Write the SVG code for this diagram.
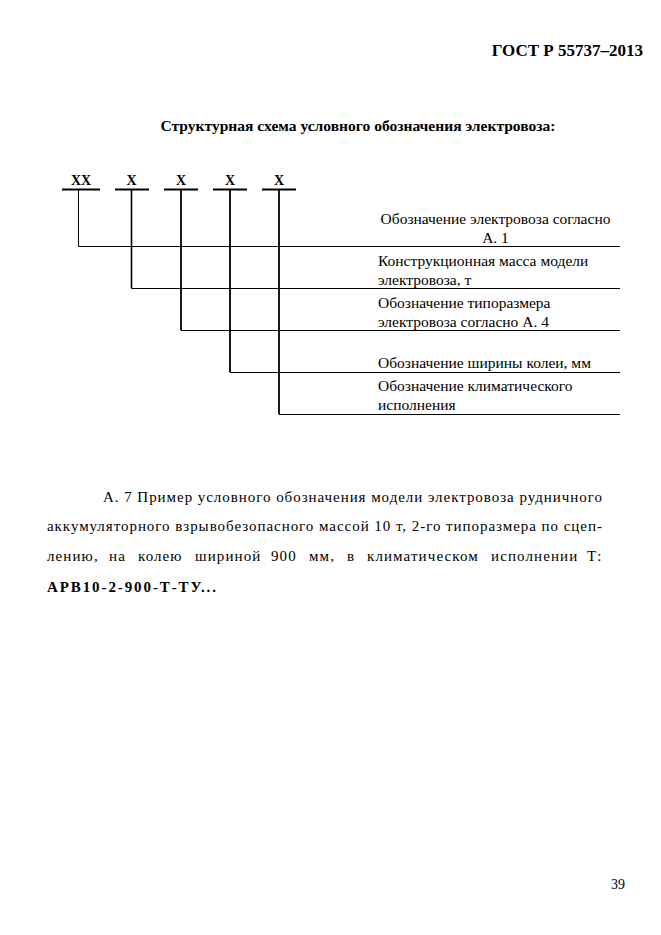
<svg xmlns="http://www.w3.org/2000/svg" width="661" height="935" viewBox="0 0 661 935">
<style>
text{font-family:"Liberation Serif","DejaVu Serif",serif;fill:#000}
.b{font-weight:bold}
.lbl{font-size:15.5px}
.par{font-size:15px;letter-spacing:1.1px}
.ul{stroke:#000;stroke-width:2;fill:none}
.thin{stroke:#000;stroke-width:1;fill:none}
.thick{stroke:#000;stroke-width:1.6;fill:none}
</style>
<rect width="661" height="935" fill="#fff"/>
<text id="header" class="b" x="643" y="56" font-size="17" text-anchor="end">ГОСТ Р 55737–2013</text>
<text id="title" class="b" x="358" y="131" font-size="15" text-anchor="middle" textLength="395" lengthAdjust="spacingAndGlyphs">Структурная схема условного обозначения электровоза:</text>

<g id="codes">
<g id="code-xx"><text class="b" x="81" y="185" font-size="14" text-anchor="middle">XX</text><line class="ul" x1="62" y1="189.5" x2="100" y2="189.5"/></g>
<g id="code-x1"><text class="b" x="131.5" y="185" font-size="14" text-anchor="middle">X</text><line class="ul" x1="115" y1="189.5" x2="149" y2="189.5"/></g>
<g id="code-x2"><text class="b" x="181" y="185" font-size="14" text-anchor="middle">X</text><line class="ul" x1="164" y1="189.5" x2="198" y2="189.5"/></g>
<g id="code-x3"><text class="b" x="230" y="185" font-size="14" text-anchor="middle">X</text><line class="ul" x1="213" y1="189.5" x2="247" y2="189.5"/></g>
<g id="code-x4"><text class="b" x="279" y="185" font-size="14" text-anchor="middle">X</text><line class="ul" x1="262" y1="189.5" x2="296" y2="189.5"/></g>
</g>

<g id="connectors">
<polyline class="thin" points="78.5,190 78.5,246.5 620,246.5"/>
<polyline class="thin" points="131.5,190 131.5,288.5 620,288.5"/>
<polyline class="thin" points="181,190 181,330.5 620,330.5"/>
<polyline class="thin" points="230,190 230,372.5 620,372.5"/>
<polyline class="thin" points="279,190 279,414.5 620,414.5"/>
<line class="thick" x1="131.5" y1="190" x2="131.5" y2="288"/>
<line class="thick" x1="181" y1="190" x2="181" y2="330"/>
<line class="thick" x1="230" y1="190" x2="230" y2="372"/>
<line class="thick" x1="279" y1="190" x2="279" y2="414"/>
</g>

<g id="label1"><text class="lbl" x="495.5" y="224" text-anchor="middle">Обозначение электровоза согласно</text><text class="lbl" x="495.5" y="243" text-anchor="middle">А. 1</text></g>
<g id="label2"><text class="lbl" x="378" y="266">Конструкционная масса модели</text><text class="lbl" x="378" y="285">электровоза, т</text></g>
<g id="label3"><text class="lbl" x="378" y="308">Обозначение типоразмера</text><text class="lbl" x="378" y="327">электровоза согласно А. 4</text></g>
<g id="label4"><text class="lbl" x="378" y="368">Обозначение ширины колеи, мм</text></g>
<g id="label5"><text class="lbl" x="378" y="391">Обозначение климатического</text><text class="lbl" x="378" y="410">исполнения</text></g>

<g id="paragraph">
<text class="par" x="103" y="502" textLength="500" lengthAdjust="spacing">А. 7 Пример условного обозначения модели электровоза рудничного</text>
<text class="par" x="47" y="531" textLength="556" lengthAdjust="spacing">аккумуляторного взрывобезопасного массой 10 т, 2-го типоразмера по сцеп-</text>
<text class="par" y="561"><tspan x="47">лению,</tspan><tspan x="109">на</tspan><tspan x="138">колею</tspan><tspan x="195">шириной</tspan><tspan x="271">900</tspan><tspan x="309">мм,</tspan><tspan x="347">в</tspan><tspan x="367">климатическом</tspan><tspan x="491">исполнении</tspan><tspan x="587">Т:</tspan></text>
<text class="par b" x="47" y="592" style="letter-spacing:1.9px">АРВ10-2-900-Т-ТУ...</text>
</g>

<text id="page" x="625" y="889" font-size="14" text-anchor="end">39</text>
</svg>
